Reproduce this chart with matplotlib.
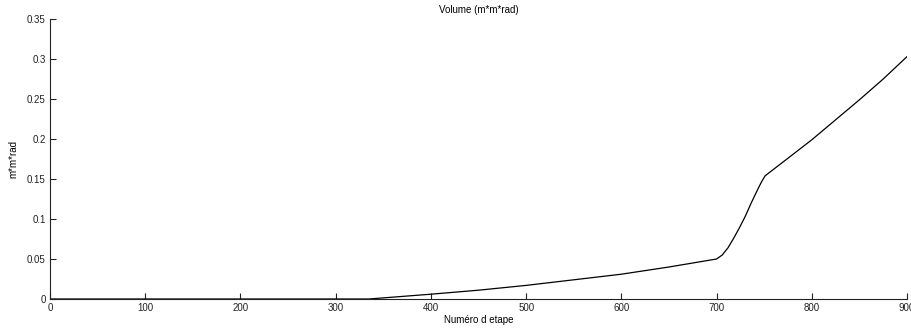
import matplotlib
matplotlib.use('Agg')
import matplotlib.pyplot as plt

# step number vs volume
steps = [0, 100, 200, 300, 335, 400, 450, 500, 550, 600, 650, 700,
         706, 712, 718, 724, 730, 736, 742, 747, 751, 775, 800, 825,
         850, 875, 900]
volume = [0, 0, 0, 0, 0, 0.006, 0.011, 0.017, 0.024, 0.031, 0.040, 0.050,
          0.055, 0.064, 0.076, 0.089, 0.103, 0.119, 0.134, 0.146, 0.154,
          0.176, 0.199, 0.224, 0.249, 0.275, 0.303]
xticks = [0, 100, 200, 300, 400, 500, 600, 700, 800, 900]
yticks = [0, 0.05, 0.1, 0.15, 0.2, 0.25, 0.3, 0.35]
yticklabels = ['0', '0.05', '0.1', '0.15', '0.2', '0.25', '0.3', '0.35']

plt.rcParams['font.family'] = ['Liberation Sans', 'DejaVu Sans']
fig = plt.figure(figsize=(9.11, 3.34), dpi=100)
ax = fig.add_axes([0.0549, 0.1048, 0.9407, 0.8382])

ax.plot(steps, volume, color='black', lw=0.9)

ax.set_xlim(0, 900)
ax.set_ylim(0, 0.35)
ax.set_xticks(xticks)
ax.set_yticks(yticks)
ax.set_yticklabels(yticklabels)
ax.tick_params(direction='in', length=4, width=0.8, labelsize=7,
               colors='#222222', pad=3)
ax.spines['top'].set_visible(False)
ax.spines['right'].set_visible(False)
for s in ['left', 'bottom']:
    ax.spines[s].set_color('#222222')
    ax.spines[s].set_linewidth(0.8)

ax.set_title('Volume (m*m*rad)', fontsize=7, pad=4)
ax.set_xlabel('Numéro d etape', fontsize=7, labelpad=1)
ax.set_ylabel('m*m*rad', fontsize=7, labelpad=6)

fig.savefig('out.png', dpi=100)
